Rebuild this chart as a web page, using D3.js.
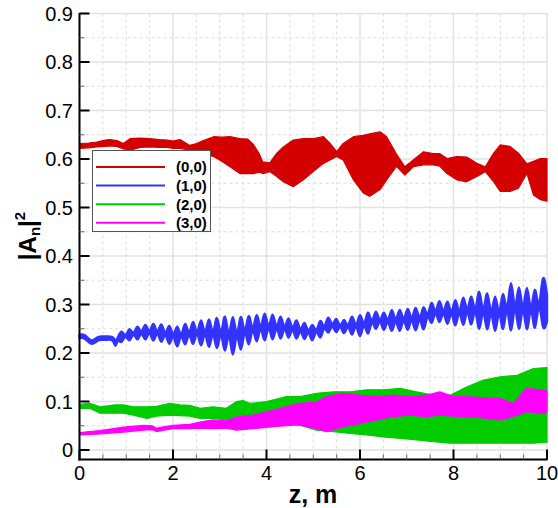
<!DOCTYPE html>
<html><head><meta charset="utf-8">
<script src="https://cdn.jsdelivr.net/npm/d3@7"></script>
<style>body{margin:0;background:#fff}svg{display:block}text{font-family:"Liberation Sans",Arial,sans-serif}</style>
</head><body><svg id="c" width="558" height="508"></svg>
<script>
// ---- data: [z, low envelope, high envelope] of |A_n|^2 ----
const seriesNames = ["(0,0)", "(1,0)", "(2,0)", "(3,0)"];
const seriesColors = ["#d40000", "#3333ff", "#00cc00", "#ff00ff"];
const xTicks = [0, 2, 4, 6, 8, 10];
const yTicks = [0, 0.1, 0.2, 0.3, 0.4, 0.5, 0.6, 0.7, 0.8, 0.9];

const red00 = [
[0.00,.622,.632],[0.20,.623,.633],[0.37,.625,.635],[0.55,.626,.639],[0.65,.627,.640],[0.80,.626,.638],
[0.94,.621,.632],[1.08,.618,.642],[1.30,.624,.643],[1.51,.625,.642],[1.70,.624,.640],[1.87,.624,.639],
[2.00,.622,.637],[2.15,.622,.640],[2.36,.618,.628],[2.50,.616,.632],[2.65,.612,.638],[2.87,.605,.646],
[3.05,.595,.645],[3.22,.584,.646],[3.43,.570,.642],[3.60,.570,.641],[3.72,.570,.630],[3.85,.573,.610],
[3.92,.570,.594],[4.07,.574,.592],[4.22,.564,.612],[4.36,.553,.625],[4.57,.543,.639],[4.79,.557,.642],
[5.00,.574,.642],[5.22,.591,.646],[5.36,.598,.632],[5.50,.605,.615],[5.64,.598,.632],[5.86,.557,.646],
[6.07,.530,.649],[6.21,.523,.652],[6.43,.537,.656],[6.57,.557,.646],[6.78,.585,.610],[6.96,.567,.584],
[7.14,.584,.598],[7.36,.588,.615],[7.57,.588,.611],[7.71,.585,.611],[7.86,.570,.601],[8.07,.557,.605],
[8.28,.553,.604],[8.50,.564,.591],[8.68,.574,.584],[8.86,.553,.612],[9.00,.533,.629],[9.21,.533,.626],
[9.39,.540,.612],[9.57,.570,.590],[9.71,.526,.595],[9.86,.516,.601],[10.0,.513,.601]
];
const blue10 = [
[0.00,.231,.238],[0.12,.229,.236],[0.26,.219,.226],[0.40,.226,.233],[0.55,.227,.234],[0.70,.226,.233],
[0.77,.215,.226],[0.82,.225,.232],[0.90,.223,.244],[0.985,.234,.237],[1.07,.226,.249],[1.155,.238,.241],
[1.24,.228,.254],[1.325,.240,.244],[1.41,.228,.258],[1.495,.241,.245],[1.58,.226,.260],[1.665,.240,.244],
[1.75,.223,.259],[1.835,.237,.241],[1.92,.219,.256],[2.005,.234,.238],[2.09,.214,.254],[2.175,.235,.238],
[2.26,.218,.260],[2.345,.238,.242],[2.43,.219,.264],[2.515,.240,.243],[2.60,.216,.267],[2.685,.239,.243],
[2.77,.213,.269],[2.855,.239,.243],[2.94,.210,.272],[3.025,.238,.242],[3.11,.205,.275],[3.195,.236,.240],
[3.28,.197,.274],[3.365,.236,.240],[3.45,.207,.274],[3.535,.242,.246],[3.62,.218,.276],[3.705,.247,.251],
[3.79,.224,.278],[3.875,.250,.254],[3.96,.226,.281],[4.045,.252,.255],[4.13,.228,.279],[4.215,.251,.255],
[4.30,.230,.275],[4.385,.250,.254],[4.47,.232,.271],[4.555,.248,.252],[4.64,.230,.267],[4.725,.245,.249],
[4.81,.229,.262],[4.895,.242,.246],[4.98,.226,.258],[5.065,.244,.247],[5.15,.232,.266],[5.235,.251,.255],
[5.32,.242,.273],[5.405,.255,.259],[5.49,.243,.270],[5.575,.254,.257],[5.66,.241,.268],[5.745,.254,.257],
[5.83,.238,.275],[5.915,.255,.258],[6.00,.235,.278],[6.085,.257,.261],[6.17,.240,.283],[6.255,.263,.266],
[6.34,.250,.285],[6.425,.265,.268],[6.51,.248,.283],[6.595,.264,.268],[6.68,.246,.288],[6.765,.265,.269],
[6.85,.246,.289],[6.935,.267,.270],[7.02,.248,.291],[7.105,.268,.272],[7.19,.247,.293],[7.275,.269,.273],
[7.36,.249,.294],[7.445,.275,.279],[7.53,.262,.303],[7.615,.282,.286],[7.70,.264,.307],[7.785,.282,.286],
[7.87,.260,.306],[7.955,.281,.285],[8.04,.257,.309],[8.125,.283,.286],[8.21,.258,.314],[8.295,.285,.289],
[8.38,.259,.316],[8.465,.286,.290],[8.55,.250,.326],[8.635,.285,.289],[8.72,.249,.323],[8.805,.282,.285],
[8.89,.246,.316],[8.975,.282,.285],[9.06,.250,.322],[9.145,.289,.293],[9.23,.247,.344],[9.315,.292,.296],
[9.40,.250,.335],[9.485,.290,.294],[9.57,.249,.334],[9.655,.289,.293],[9.74,.252,.330],[9.825,.296,.299],
[9.91,.256,.352],[10.0,.265,.320]
];
const green20 = [
[0.00,.086,.094],[0.22,.086,.096],[0.44,.076,.089],[0.76,.076,.093],[0.94,.076,.093],[1.15,.072,.089],
[1.44,.065,.089],[1.65,.070,.090],[1.93,.072,.096],[2.15,.071,.093],[2.36,.070,.092],[2.58,.065,.086],
[2.86,.065,.089],[3.14,.062,.086],[3.36,.062,.100],[3.50,.063,.102],[3.65,.065,.096],[4.00,.062,.100],
[4.43,.057,.110],[4.72,.051,.110],[5.07,.041,.117],[5.43,.038,.120],[5.79,.034,.120],[6.14,.031,.124],
[6.50,.027,.124],[6.86,.024,.127],[7.21,.021,.120],[7.57,.017,.113],[7.93,.014,.113],[8.28,.014,.130],
[8.64,.014,.144],[9.00,.014,.151],[9.36,.014,.154],[9.71,.014,.168],[10.0,.016,.170]
];
const magenta30 = [
[0.00,.031,.036],[0.44,.033,.040],[0.94,.037,.047],[1.37,.041,.051],[1.55,.042,.050],[1.65,.038,.045],
[1.80,.041,.048],[2.00,.044,.051],[2.36,.044,.053],[2.60,.045,.058],[2.86,.044,.062],[3.14,.045,.060],
[3.36,.041,.068],[3.71,.044,.072],[4.14,.048,.082],[4.57,.051,.093],[4.72,.051,.096],[5.07,.044,.099],
[5.29,.038,.110],[5.64,.048,.117],[6.00,.055,.113],[6.36,.062,.110],[6.71,.069,.113],[7.07,.072,.110],
[7.43,.069,.113],[7.71,.072,.120],[8.00,.070,.110],[8.28,.069,.110],[8.64,.066,.108],[9.00,.062,.106],
[9.29,.069,.096],[9.45,.075,.115],[9.57,.079,.127],[9.86,.076,.124],[10.0,.078,.122]
];
const allSeries = [red00, blue10, green20, magenta30];

// ---- drawing ----
const svg = d3.select("#c");
const x = d3.scaleLinear().domain([0, 10]).range([79.5, 547]);
const y = d3.scaleLinear().domain([0, 0.9]).range([450, 13.5]);
const yBottom = 459.5;

// grid
const g = svg.append("g");
const minorX = d3.range(0, 10.001, 0.5).filter(v => Math.abs(v / 2 - Math.round(v / 2)) > 1e-6);
const minorY = d3.range(0.05, 0.9, 0.1);
g.selectAll(".mx").data(minorX).join("line")
  .attr("x1", d => x(d)).attr("x2", d => x(d)).attr("y1", y(0.9)).attr("y2", yBottom)
  .attr("stroke", "#dcdcdc").attr("stroke-width", 1).attr("stroke-dasharray", "3,3");
g.selectAll(".my").data(minorY).join("line")
  .attr("x1", x(0)).attr("x2", x(10)).attr("y1", d => y(d)).attr("y2", d => y(d))
  .attr("stroke", "#dcdcdc").attr("stroke-width", 1).attr("stroke-dasharray", "3,3");
g.selectAll(".Mx").data(xTicks).join("line")
  .attr("x1", d => x(d)).attr("x2", d => x(d)).attr("y1", y(0.9)).attr("y2", yBottom)
  .attr("stroke", "#e2e2e2").attr("stroke-width", 1.5);
g.selectAll(".My").data(yTicks).join("line")
  .attr("x1", x(0)).attr("x2", x(10)).attr("y1", d => y(d)).attr("y2", d => y(d))
  .attr("stroke", "#e2e2e2").attr("stroke-width", 1.5);

// bands
const curves = [d3.curveLinear, d3.curveNatural, d3.curveLinear, d3.curveLinear];
const strokeW = [1.2, 2.4, 1.2, 1.2];
allSeries.forEach((data, i) => {
  const area = d3.area().x(d => x(d[0])).y0(d => y(d[1])).y1(d => y(d[2])).curve(curves[i]);
  svg.append("path").attr("d", area(data))
    .attr("fill", seriesColors[i]).attr("stroke", seriesColors[i]).attr("stroke-width", strokeW[i])
    .attr("stroke-linejoin", "round");
});

// axes
const ax = svg.append("g");
ax.append("line").attr("x1", x(0)).attr("x2", x(0)).attr("y1", y(0.9) - 0.5).attr("y2", yBottom + 1)
  .attr("stroke", "#000").attr("stroke-width", 2);
ax.append("line").attr("x1", x(0) - 1).attr("x2", x(10) + 0.5).attr("y1", yBottom).attr("y2", yBottom)
  .attr("stroke", "#000").attr("stroke-width", 2);
ax.selectAll(".yt").data(yTicks).join("line")
  .attr("x1", x(0)).attr("x2", x(0) + 10).attr("y1", d => y(d)).attr("y2", d => y(d))
  .attr("stroke", "#000").attr("stroke-width", 2);
ax.selectAll(".ymt").data(minorY).join("line")
  .attr("x1", x(0)).attr("x2", x(0) + 5).attr("y1", d => y(d)).attr("y2", d => y(d))
  .attr("stroke", "#666").attr("stroke-width", 1);
ax.selectAll(".xt").data(xTicks).join("line")
  .attr("x1", d => x(d)).attr("x2", d => x(d)).attr("y1", yBottom).attr("y2", yBottom - 10)
  .attr("stroke", "#000").attr("stroke-width", 2);
ax.selectAll(".xmt").data(minorX).join("line")
  .attr("x1", d => x(d)).attr("x2", d => x(d)).attr("y1", yBottom).attr("y2", yBottom - 5)
  .attr("stroke", "#666").attr("stroke-width", 1);

ax.selectAll(".yl").data(yTicks).join("text")
  .attr("x", 73).attr("y", d => y(d)).attr("dy", "0.35em").attr("text-anchor", "end")
  .attr("font-size", 20).attr("fill", "#000").text(d => d === 0 ? "0" : d3.format(".1f")(d));
ax.selectAll(".xl").data(xTicks).join("text")
  .attr("x", d => x(d)).attr("y", 480).attr("text-anchor", "middle")
  .attr("font-size", 20).attr("fill", "#000").text(d => d);

// axis titles
svg.append("text").attr("x", 313).attr("y", 503).attr("text-anchor", "middle")
  .attr("font-size", 25).attr("font-weight", "bold").text("z, m");
const yt = svg.append("text").attr("transform", "translate(36,236) rotate(-90)")
  .attr("text-anchor", "middle").attr("font-size", 24).attr("font-weight", "bold");
yt.append("tspan").text("|A");
yt.append("tspan").attr("font-size", 15).attr("dy", 4).text("n");
yt.append("tspan").attr("dy", -4).text("|");
yt.append("tspan").attr("font-size", 15).attr("dy", -11).text("2");

// legend
const lg = svg.append("g");
lg.append("rect").attr("x", 92.5).attr("y", 150.5).attr("width", 118).attr("height", 81)
  .attr("fill", "#fff").attr("stroke", "#555").attr("stroke-width", 1);
seriesNames.forEach((nm, i) => {
  const yy = 167 + i * 18.6;
  lg.append("line").attr("x1", 96).attr("x2", 165).attr("y1", yy).attr("y2", yy)
    .attr("stroke", seriesColors[i]).attr("stroke-width", 2);
  lg.append("text").attr("x", 176).attr("y", yy).attr("dy", "0.36em")
    .attr("font-size", 15).attr("font-weight", "bold").text(nm);
});
</script></body></html>
